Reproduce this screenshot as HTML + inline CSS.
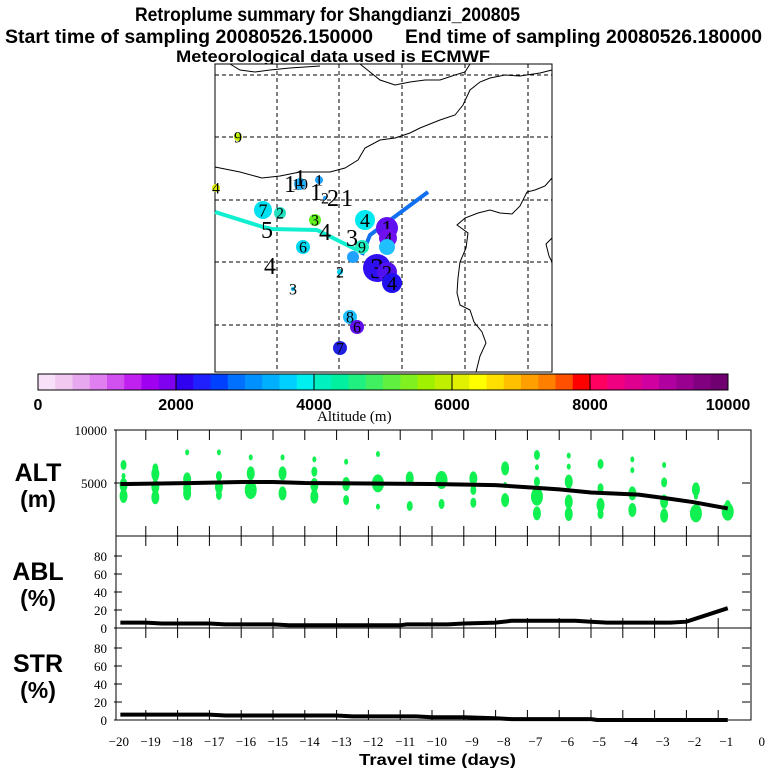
<!DOCTYPE html>
<html><head><meta charset="utf-8"><style>
body{margin:0;background:#fff}
svg{display:block}
.t{font-weight:bold;font-family:"Liberation Sans",sans-serif}
.s{font-family:"Liberation Serif",serif;font-size:13px}
</style></head><body>
<svg id="chart" width="768" height="768" viewBox="0 0 768 768" xmlns="http://www.w3.org/2000/svg">
<text class="t" x="135" y="21" font-size="19" textLength="385" lengthAdjust="spacingAndGlyphs">Retroplume summary for Shangdianzi_200805</text>
<text class="t" x="5" y="43" font-size="19" textLength="368" lengthAdjust="spacingAndGlyphs">Start time of sampling 20080526.150000</text>
<text class="t" x="405" y="43" font-size="19" textLength="357" lengthAdjust="spacingAndGlyphs">End time of sampling 20080526.180000</text>
<text class="t" x="176" y="62" font-size="17" textLength="314" lengthAdjust="spacingAndGlyphs">Meteorological data used is ECMWF</text>
<g id="map"></g>
<g id="cbar"></g>
<text class="s" x="317" y="421" font-size="15" style="font-size:15px">Altitude (m)</text>
<g id="panels"></g>
<text class="t" x="359" y="765" font-size="16" textLength="157" lengthAdjust="spacingAndGlyphs">Travel time (days)</text>
</svg>
<script>
const NS="http://www.w3.org/2000/svg";
// ---- data ----
const altLineDays=[-19.8,-17.5,-16,-15,-14,-12,-10,-8,-7,-6,-5,-3.5,-2.5,-1.8,-0.7];
const altLineVals=[4900,5000,5100,5100,5000,4950,4900,4800,4600,4400,4100,3900,3500,3200,2600];
const ablDays=[-19.8,-19,-18.5,-17,-16.5,-15,-14.5,-11,-10.8,-9.5,-9,-8,-7.5,-5.5,-5,-4.5,-3,-2.5,-2,-0.7];
const ablVals=[6,6,5,5,4,4,3,3,4,4,5,6,8,8,7,6,6,6,7,22];
const strDays=[-19.8,-17,-16.5,-13,-12.5,-10.5,-10,-9,-8,-7.5,-5,-4.8,-0.7];
const strVals=[6,6,5,5,4,4,3,3,2,1,1,0,0];
const dotCols=[-19.7,-18.7,-17.7,-16.7,-15.7,-14.7,-13.7,-12.7,-11.7,-10.7,-9.7,-8.7,-7.7,-6.7,-5.7,-4.7,-3.7,-2.7,-1.7,-0.7];
const dotAlts=[[6700,5660,4810,3770],[6380,5850,4650,3650],[7890,5340,4500,4020],[7890,5660,4650,3870],[7420,5910,4340],[7420,5910,4020],[7230,6070,4810,3710],[7010,4900,3390],[7730,4960,2770],[5440,2830],[5280,3020],[5440,4340,3140],[6380,4810,3390],[7640,6480,5130,3710,2140],[7580,6540,5130,3240,2070],[6790,4500,2920,2070],[7230,6220,4020,2450],[6700,5060,3240,1920],[4400,3710,2140],[2920,2300]];
const dotSizes=[[2,1,3,3],[2,3,3,3],[1,3,3,3],[1,2,3,2],[1,3,4],[1,3,3],[1,2,3,3],[1,3,2],[1,4,1],[3,2],[4,2],[3,2,2],[3,1,3],[2,1,2,4,3],[1,1,3,3,3],[2,2,3,2],[1,1,3,3],[1,2,3,3],[3,1,4],[2,4]];
const cbarColors=["#f8e0f8","#f0c8f0","#e8a8f0","#e080f0","#d050f0","#c020f0","#a000f0","#8000f0","#3000f0","#2020ff","#0040ff","#0070ff","#0090ff","#00b0ff","#00d0ff","#00f0f0","#00f0c0","#00f0a0","#20f080","#40f060","#60f040","#80f020","#a0f000","#c0f000","#e0f000","#ffff00","#ffe000","#ffc000","#ffa000","#ff8000","#ff5000","#ff0000","#ff0060","#f00080","#e00090","#d000a0","#b000a0","#9a0090","#800080","#700070"];
const cbarTicks=[0,2000,4000,6000,8000,10000];
const mapDots=[[238,137,4,"#c0f000","9"],[216,188,4,"#e0f000","4"],[300,184,6,"#20b0ff","10"],[319,180,4,"#20a0ff","1"],[325,198,2,"#20a0ff","2"],[263,210,9,"#00e0f0","7"],[280,213,6,"#20e0c0","2"],[315,220,6,"#60f020","3"],[303,247,7,"#00d8f0","6"],[293,289,2,"#00c0ff","3"],[340,272,3,"#00d0f0","2"],[365,220,10,"#00e8f0","4"],[387,228,11,"#6010f0","1"],[388,238,9,"#7010f0","4"],[387,247,8,"#20c0ff",""],[362,247,7,"#20f0c0","9"],[353,257,6,"#20a0ff",""],[377,268,14,"#3010f0","3"],[387,272,10,"#5010f0","2"],[392,283,10,"#2010f0","4"],[350,317,7,"#20c0ff","8"],[357,327,7,"#6010f0","6"],[340,348,7,"#2020e0","7"]];
const mapLabels=[[290,192,"1"],[300,186,"1"],[316,200,"1"],[333,206,"2"],[347,206,"1"],[267,238,"5"],[325,240,"4"],[270,274,"4"],[352,246,"3"]];

function el(tag,attrs,parent){const e=document.createElementNS(NS,tag);for(const k in attrs)e.setAttribute(k,attrs[k]);(parent||document.getElementById('chart')).appendChild(e);return e;}
const SERIF='font-family:"Liberation Serif",serif;';
const SANS='font-family:"Liberation Sans",sans-serif;';
// ---- map ----
const map=document.getElementById('map');
el('rect',{x:215,y:64,width:337,height:308,fill:'#fff',stroke:'#000','stroke-width':1},map);
[277,339,402,465,528].forEach(x=>el('line',{x1:x,y1:64,x2:x,y2:372,stroke:'#000','stroke-dasharray':'4,3','stroke-width':1},map));
[75,137,200,262,325].forEach(y=>el('line',{x1:215,y1:y,x2:552,y2:y,stroke:'#000','stroke-dasharray':'4,3','stroke-width':1},map));
const coasts=["215,167 240,172 262,178 280,176 300,172 330,172 345,168 358,160 365,148 380,140 395,138 410,133 420,128 440,120 455,115 463,105 470,90 480,82 490,78 505,75 520,76 540,73 552,70",
"230,64 240,70 255,72 270,70 290,68 320,66","360,64 380,80 395,85 410,82 425,80 440,80 455,75 465,72 470,64",
"552,178 545,186 535,190 527,192 520,206 512,214 500,213 490,210 478,213 465,218 457,225 468,233 466,248 460,262 458,278 457,293 460,305 470,310 474,322 482,332 486,343 480,356 476,372",
"552,238 546,244 549,256 552,262"];
coasts.forEach(p=>el('polyline',{points:p,fill:'none',stroke:'#000','stroke-width':1},map));
el('polyline',{points:"215,212 263,227 272,229 317,230 357,250",fill:'none',stroke:'#10f0d0','stroke-width':4},map);
el('polyline',{points:"428,192 370,235 362,255",fill:'none',stroke:'#1070f0','stroke-width':4},map);
mapDots.forEach(d=>{
  const c=el('circle',{cx:d[0],cy:d[1],r:d[2],fill:d[3]},map);
  
  
  if(d[4]){const fs=Math.max(16,d[2]*2);const t=el('text',{x:d[0],y:d[1]+fs*0.35,'text-anchor':'middle',style:SERIF+'font-size:'+fs+'px'},map);t.textContent=d[4];}
});
mapLabels.forEach(d=>{const t=el('text',{x:d[0],y:d[1],'text-anchor':'middle',style:SERIF+'font-size:24px'},map);t.textContent=d[2];});
// ---- colorbar ----
const cb=document.getElementById('cbar');const cx0=38,cx1=728,cy=374,ch=16;
const cxs=v=>cx0+(cx1-cx0)*v/10000;
cbarColors.forEach((c,i)=>{const r=el('rect',{x:cxs(i*250),y:cy,width:(cx1-cx0)/40+0.3,height:ch,fill:c},cb);
  
  });
el('rect',{x:cx0,y:cy,width:cx1-cx0,height:ch,fill:'none',stroke:'#000'},cb);
cbarTicks.forEach(v=>{el('line',{x1:cxs(v),y1:cy,x2:cxs(v),y2:cy+ch,stroke:'#000'},cb);
  const t=el('text',{x:cxs(v),y:410,'text-anchor':'middle',style:SANS+'font-size:16px;font-weight:bold'},cb);t.textContent=v;});
// ---- panels ----
const P=document.getElementById('panels');
const X0=114,X1=750;const xs=d=>X1+d*(X1-X0)/20;
function frame(top,bot,name,lab1,lab2,ticks,ymap){
  const g=el('g',{},P);
  el('rect',{x:X0+2,y:top,width:X1-X0-1,height:bot-top,fill:'none',stroke:'#000'},g);
  for(let d=-19;d<=-1;d++){el('line',{x1:xs(d),y1:top,x2:xs(d),y2:top+10,stroke:'#000'},g);el('line',{x1:xs(d),y1:bot,x2:xs(d),y2:bot-10,stroke:'#000'},g);}
  ticks.forEach(v=>{const y=ymap(v);el('line',{x1:X0,y1:y,x2:X0+8,y2:y,stroke:'#000'},g);el('line',{x1:X1,y1:y,x2:X1-8,y2:y,stroke:'#000'},g);
    const t=el('text',{x:X0-7,y:y+5,'text-anchor':'end',style:SERIF+'font-size:13px'},g);t.textContent=v;});
  const a=el('text',{x:38,y:top+(bot-top)/2-2,'text-anchor':'middle',style:SANS+'font-size:25px;font-weight:bold'},g);a.textContent=lab1;
  const b=el('text',{x:38,y:top+(bot-top)/2+24,'text-anchor':'middle',style:SANS+'font-size:23px;font-weight:bold'},g);b.textContent=lab2;
  return g;}
const ya=v=>536-v*106/10000, yb=v=>628-v*0.9, ys=v=>720-v*0.9;
const gA=frame(430,536,'alt-panel','ALT','(m)',[5000,10000],ya);
const gB=frame(536,628,'abl-panel','ABL','(%)',[0,20,40,60,80],yb);
const gS=frame(628,720,'str-panel','STR','(%)',[0,20,40,60,80],ys);
const rx=[0,2,3,4,6],ry=[0,3,5,7,9];
dotCols.forEach((d,i)=>dotAlts[i].forEach((a,j)=>{const s=dotSizes[i][j];
  const e=el('ellipse',{cx:xs(d),cy:ya(a),rx:rx[s],ry:ry[s],fill:'#10f050'},gA);
  
  }));
function line(g,days,vals,ym,name){const p=el('polyline',{points:days.map((d,i)=>xs(d)+','+ym(vals[i])).join(' '),fill:'none',stroke:'#000','stroke-width':4},g);
  }
line(gA,altLineDays,altLineVals,ya,'alt-mean-line');
line(gB,ablDays,ablVals,yb,'abl-line');
line(gS,strDays,strVals,ys,'str-line');
for(let d=-20;d<=0;d++){const t=el('text',{x:xs(d)+15,y:746,'text-anchor':'end',style:SERIF+'font-size:13px'},P);t.textContent=d<0?'\u2212'+(-d):'0';}
</script>
</body></html>
